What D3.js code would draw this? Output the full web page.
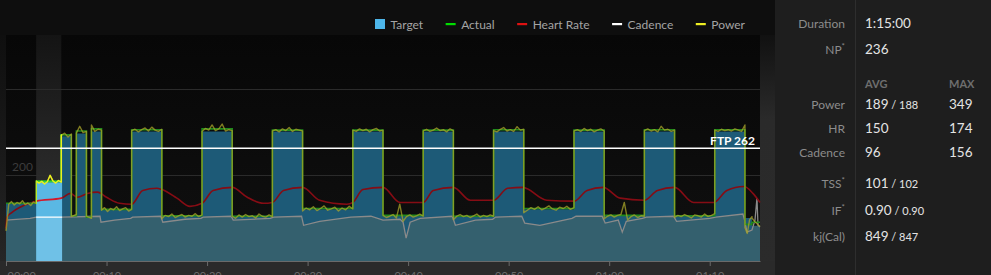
<!DOCTYPE html>
<html>
<head>
<meta charset="utf-8">
<script src="https://cdn.jsdelivr.net/npm/d3@7"></script>
<style>
  body { margin: 0; background: #0e0e0e; overflow: hidden; }
  text { font-family: Lato, "Open Sans", sans-serif; }
</style>
</head>
<body>
<div id="chart"></div>
<script>
// workout intervals (minutes) with target and actual watts
var duration = 75;
var ftp = 262;
var selected = [3, 5.5];

var segStart  = [0, 3, 5.5, 6.5, 7, 8, 8.5, 9.5, 12.5, 15.5, 19.5, 22.5, 26.5, 29.5, 34.5, 37.5, 41.5, 44.5, 48.5, 51.5, 56.5, 59.5, 63.5, 66.5, 70.5, 73.5, 74.2];
var segTarget = [134, 183, 290, 105, 296, 105, 301, 120, 301, 105, 301, 105, 301, 120, 301, 105, 301, 105, 301, 120, 301, 105, 301, 105, 301, 100, 82];
var segActual = [134, 185, 293, 105, 302, 102, 307, 120, 305, 105, 307, 104, 304, 122, 304, 106, 304, 104, 305, 122, 304, 106, 305, 105, 305, 85, 90];

// raw power readings, one list per interval (spread evenly over it)
var powerSamples = [
  [70, 132, 138, 130, 136, 133, 140, 131, 135, 129, 137, 134],
  [186, 181, 185, 179, 184, 199, 186, 181, 187, 183],
  [292, 297, 288, 295],
  [103, 108],
  [297, 313, 298, 301],
  [104, 99],
  [316, 301, 306, 304],
  [118, 124, 115, 122, 119, 126, 117, 121, 124, 116, 120],
  [303, 306, 300, 305, 309, 302, 311, 304, 301, 306],
  [98, 106, 103, 109, 101, 105, 108, 102, 106, 104, 110, 103, 107],
  [301, 308, 304, 316, 303, 307, 318, 302, 305, 303],
  [104, 99, 107, 102, 108, 103, 105, 100, 109, 104, 102, 107, 103],
  [302, 305, 300, 307, 303, 310, 301, 306, 304, 302],
  [116, 123, 119, 126, 117, 122, 128, 118, 121, 125, 116, 123, 119, 127, 121],
  [304, 301, 307, 303, 306, 300, 305, 308, 302, 304],
  [106, 101, 104, 108, 100, 132, 92, 103, 107, 102, 105, 109, 104],
  [302, 306, 301, 304, 309, 303, 305, 300, 307, 303],
  [96, 104, 108, 103, 106, 101, 105, 109, 102, 106, 103, 107, 104],
  [303, 300, 306, 310, 302, 305, 301, 312, 304, 306],
  [112, 118, 124, 120, 126, 119, 123, 128, 121, 118, 125, 122, 127, 120, 124],
  [302, 305, 301, 308, 303, 306, 300, 304, 307, 302],
  [98, 104, 107, 102, 106, 108, 136, 95, 103, 107, 101, 105, 104],
  [303, 307, 302, 305, 300, 313, 304, 306, 301, 304],
  [101, 106, 103, 108, 104, 100, 107, 105, 102, 109, 103, 106, 110],
  [304, 301, 306, 303, 305, 302, 307, 304, 301, 316],
  [78, 64, 96, 103],
  [100, 92, 86, 80]
];

// heart rate (bpm)
var hrTime = [0, 0.1, 0.6, 1.4, 3, 5.5, 6.4, 7.1, 8.1, 9.1, 10, 11.3, 12.5, 13.6, 15, 15.5, 17, 18.3, 19.5, 20.6, 22.5, 24, 25.6, 26.5, 27.6, 29.5, 31.2, 33.9, 34.5, 35.5, 37.5, 39.2, 41.5, 42.5, 44.5, 46.2, 48.5, 49.9, 51.4, 53.8, 56.5, 57.8, 59.4, 61.1, 63.5, 64.8, 66.5, 68.4, 70.4, 71.7, 73.4, 74.3, 75];
var hrBpm  = [76, 102, 113, 125, 139, 146, 157, 148, 157, 160, 148, 134, 132, 164, 169, 166, 146, 127, 134, 164, 171, 148, 134, 136, 164, 171, 141, 132, 136, 166, 171, 136, 136, 164, 171, 141, 141, 169, 171, 141, 139, 164, 171, 146, 141, 164, 171, 136, 136, 164, 173, 157, 136];

// cadence (rpm)
var cadTime = [0, 2.4, 3, 5.5, 9.35, 9.45, 10.8, 12.4, 12.6, 15.4, 15.6, 17.8, 19.4, 19.6, 22.4, 22.6, 26.3, 26.6, 29.4, 29.6, 31.2, 34.3, 36.3, 37.5, 39.2, 39.5, 39.8, 40.2, 41.2, 44.4, 44.7, 46.7, 48.4, 48.7, 51.3, 51.6, 53.1, 56.3, 56.7, 59.3, 59.6, 60.9, 61.3, 61.7, 63.3, 63.7, 66.4, 66.7, 70, 70.6, 73.3, 73.5, 73.7, 74.2, 74.5, 74.7, 74.8, 75];
var cadRpm  = [95, 99, 102, 102, 104, 90, 95, 99, 102, 104, 90, 97, 99, 102, 104, 95, 99, 102, 104, 83, 92, 102, 104, 95, 97, 90, 53, 90, 99, 104, 83, 95, 97, 102, 104, 88, 83, 99, 104, 104, 88, 95, 67, 92, 99, 102, 104, 92, 99, 102, 109, 92, 67, 72, 95, 146, 83, 79];

var xTickValues = [0, 10, 20, 30, 40, 50, 60, 70];
var xTickLabels = ["00:00", "00:10", "00:20", "00:30", "00:40", "00:50", "01:00", "01:10"];
var yGridValues = [200, 400];
var yTickLabels = ["200"];

var legendLabels = ["Target", "Actual", "Heart Rate", "Cadence", "Power"];
var legendColors = ["#4db5e8", "#00dd00", "#dd1111", "#ffffff", "#eeee22"];

// summary panel
var summaryLabels = ["Duration", "NP"];
var summaryValues = ["1:15:00", "236"];
var metricLabels = ["Power", "HR", "Cadence"];
var metricAvg = ["189", "150", "96"];
var metricAvgPlan = ["188", null, null];
var metricMax = ["349", "174", "156"];
var scoreLabels = ["TSS", "IF", "kj(Cal)"];
var scoreActual = ["101", "0.90", "849"];
var scorePlan = ["102", "0.90", "847"];

var svgWidth = 991, svgHeight = 275;
var plot = {left: 6, right: 760, top: 35, bottom: 261};

var svg = d3.select("#chart").append("svg")
  .attr("width", svgWidth)
  .attr("height", svgHeight);

var defs = svg.append("defs");
function vGrad(id, stops) {
  var g = defs.append("linearGradient").attr("id", id)
    .attr("x1", 0).attr("y1", 0).attr("x2", 0).attr("y2", 1);
  stops.forEach(function(s) {
    g.append("stop").attr("offset", s[0]).attr("stop-color", s[1]);
  });
}
vGrad("plotBg", [[0, "#070707"], [1, "#101010"]]);
vGrad("bandBg", [[0, "#141414"], [0.6, "#292929"], [1, "#2c2c2c"]]);
vGrad("rightStrip", [[0, "#111111"], [0.35, "#2a2a2a"], [1, "#2b2b2b"]]);
vGrad("leftStrip", [[0, "#0f0f0f"], [0.6, "#1b1b1b"], [1, "#262626"]]);

// scales
var x = d3.scaleLinear().domain([0, duration]).range([plot.left, plot.right]);
var y = d3.scaleLinear().domain([0, 525]).range([plot.bottom, plot.top]);

// backgrounds
svg.append("rect").attr("x", 0).attr("y", 0).attr("width", 775).attr("height", svgHeight).attr("fill", "#0e0e0e");
svg.append("rect").attr("x", 0).attr("y", plot.top).attr("width", plot.left).attr("height", plot.bottom - plot.top).attr("fill", "url(#leftStrip)");
svg.append("rect").attr("x", plot.right).attr("y", plot.top).attr("width", 15).attr("height", svgHeight - plot.top).attr("fill", "url(#rightStrip)");
svg.append("rect").attr("x", 0).attr("y", plot.bottom).attr("width", 775).attr("height", svgHeight - plot.bottom).attr("fill", "#2a2a2a");
svg.append("rect").attr("x", plot.left).attr("y", plot.top).attr("width", plot.right - plot.left).attr("height", plot.bottom - plot.top).attr("fill", "url(#plotBg)");

// selected interval band
svg.append("rect")
  .attr("x", x(selected[0])).attr("y", plot.top)
  .attr("width", x(selected[1]) - x(selected[0])).attr("height", plot.bottom - plot.top)
  .attr("fill", "url(#bandBg)");

// gridlines
svg.selectAll(".grid").data(yGridValues).enter().append("line")
  .attr("class", "grid")
  .attr("x1", plot.left).attr("x2", plot.right)
  .attr("y1", d => Math.round(y(d)) + 0.5).attr("y2", d => Math.round(y(d)) + 0.5)
  .attr("stroke", "#2b2b2b");

svg.selectAll(".ylab").data(yTickLabels).enter().append("text")
  .attr("class", "ylab")
  .attr("x", 12).attr("y", d => y(+d) - 4)
  .attr("fill", "#3c3c3c").style("font-size", "12px")
  .text(d => d);

// series
var segs = segStart.map(function(s, i) {
  return {start: s, end: i < segStart.length - 1 ? segStart[i + 1] : duration, target: segTarget[i], actual: segActual[i]};
});
var stepTarget = segs.map(d => [d.start, d.target]).concat([[duration, segTarget[segTarget.length - 1]]]);
var stepActual = segs.map(d => [d.start, d.actual]).concat([[duration, segActual[segActual.length - 1]]]);

var powerPts = [];
powerSamples.forEach(function(list, i) {
  var sg = segs[i];
  list.forEach(function(w, j) {
    powerPts.push([sg.start + (sg.end - sg.start) * j / (list.length - 1), w]);
  });
});
var hrPts = hrTime.map((t, i) => [t, hrBpm[i]]);
var cadPts = cadTime.map((t, i) => [t, cadRpm[i]]);

var targetArea = d3.area().x(d => x(d[0])).y0(plot.bottom).y1(d => y(d[1])).curve(d3.curveStepAfter);
var cadArea = d3.area().x(d => x(d[0])).y0(plot.bottom).y1(d => y(d[1]));
var stepLine = d3.line().x(d => x(d[0])).y(d => y(d[1])).curve(d3.curveStepAfter);
var plainLine = d3.line().x(d => x(d[0])).y(d => y(d[1]));
var smoothLine = d3.line().x(d => x(d[0])).y(d => y(d[1])).curve(d3.curveMonotoneX);

defs.append("clipPath").attr("id", "targetClip")
  .append("path").attr("d", targetArea(stepTarget));
defs.append("clipPath").attr("id", "selClip")
  .append("rect").attr("x", x(selected[0])).attr("y", 0)
  .attr("width", x(selected[1]) - x(selected[0]) + 0.8).attr("height", svgHeight);

function drawLayer(g, c) {
  g.append("path").attr("d", targetArea(stepTarget)).attr("fill", c.fill);
  g.append("g").attr("clip-path", "url(#targetClip)")
    .append("path").attr("d", cadArea(cadPts)).attr("fill", c.cadFill);
  g.append("path").attr("d", plainLine(cadPts)).attr("fill", "none")
    .attr("stroke", c.cad).attr("stroke-width", 1.3);
  g.append("path").attr("d", smoothLine(hrPts)).attr("fill", "none")
    .attr("stroke", c.hr).attr("stroke-width", 1.6);
  g.append("path").attr("d", stepLine(stepActual)).attr("fill", "none")
    .attr("stroke", c.actual).attr("stroke-width", 1.6);
  g.append("path").attr("d", plainLine(powerPts)).attr("fill", "none")
    .attr("stroke", c.power).attr("stroke-opacity", c.powerOpacity)
    .attr("stroke-width", 1.4).attr("stroke-linejoin", "round");
}

drawLayer(svg.append("g"), {
  fill: "#1d5a77", cadFill: "rgba(76,102,102,0.5)", cad: "#8a8a8a",
  hr: "#860c14", actual: "#1f8a1c", power: "#a8a42a", powerOpacity: 0.75
});
drawLayer(svg.append("g").attr("clip-path", "url(#selClip)"), {
  fill: "#5ab8e4", cadFill: "rgba(255,255,255,0.13)", cad: "#ffffff",
  hr: "#d4182a", actual: "#2fd82f", power: "#ecf020", powerOpacity: 1
});

// FTP line
svg.append("line")
  .attr("x1", plot.left).attr("x2", plot.right)
  .attr("y1", y(ftp)).attr("y2", y(ftp))
  .attr("stroke", "#ffffff").attr("stroke-width", 1.5);
svg.append("text")
  .attr("x", 755).attr("y", y(ftp) - 3)
  .attr("text-anchor", "end")
  .attr("fill", "#ffffff").style("font-size", "12px").style("font-weight", "bold")
  .text("FTP " + ftp);

// x axis
var xAxis = d3.axisBottom(x)
  .tickValues(xTickValues)
  .tickFormat((d, i) => xTickLabels[i])
  .tickSize(5).tickSizeOuter(0).tickPadding(6);
var axisG = svg.append("g")
  .attr("transform", `translate(0, ${plot.bottom})`)
  .call(xAxis);
axisG.select(".domain").attr("stroke", "#6a6a6a");
axisG.selectAll(".tick line").attr("stroke", "#6a6a6a");
axisG.selectAll(".tick text").attr("fill", "#6a6a6a")
  .style("font-family", "Lato, sans-serif").style("font-size", "11px");
axisG.selectAll(".tick text").filter((d, i) => i === 0)
  .attr("text-anchor", "start").attr("x", 1);

// legend
var lx = 375;
legendLabels.forEach(function(label, i) {
  if (i === 0) {
    svg.append("rect").attr("x", lx).attr("y", 19).attr("width", 10).attr("height", 10).attr("fill", legendColors[i]);
  } else {
    svg.append("rect").attr("x", lx).attr("y", 23).attr("width", 10).attr("height", 2.2).attr("fill", legendColors[i]);
  }
  var t = svg.append("text")
    .attr("x", lx + 15.5).attr("y", 28.5)
    .attr("fill", "#a4a4a4").style("font-size", "12px")
    .text(label);
  lx += 15.5 + t.node().getComputedTextLength() + 22.5;
});

// summary panel
var panel = svg.append("g").attr("transform", "translate(775, 0)");
panel.append("rect").attr("width", 216).attr("height", svgHeight).attr("fill", "#1e1e1e");
panel.append("line").attr("x1", 80.5).attr("x2", 80.5).attr("y1", 0).attr("y2", svgHeight).attr("stroke", "#2e2e2e");

var labelX = 70, valueX = 90, maxX = 174;
function rowLabel(y0, txt, star) {
  var t = panel.append("text").attr("x", labelX).attr("y", y0)
    .attr("text-anchor", "end").attr("fill", "#8c8c8c").style("font-size", "12px")
    .text(txt);
  if (star) {
    t.append("tspan").attr("dy", -5).style("font-size", "8px").text("*");
  }
}
function rowValue(x0, y0, main, plan) {
  var t = panel.append("text").attr("x", x0).attr("y", y0)
    .attr("fill", "#e4e4e4").style("font-size", "13.5px")
    .text(main);
  if (plan) {
    t.append("tspan").style("font-size", "11px").text(" / " + plan);
  }
}

var summaryY = [28, 54];
summaryLabels.forEach(function(l, i) {
  rowLabel(summaryY[i], l, l === "NP");
  rowValue(valueX, summaryY[i], summaryValues[i]);
});

panel.append("text").attr("x", valueX).attr("y", 88).attr("fill", "#6e6e6e")
  .style("font-size", "11px").style("font-weight", "bold").text("AVG");
panel.append("text").attr("x", maxX).attr("y", 88).attr("fill", "#6e6e6e")
  .style("font-size", "11px").style("font-weight", "bold").text("MAX");

var metricY = [109, 133, 157];
metricLabels.forEach(function(l, i) {
  rowLabel(metricY[i], l, false);
  rowValue(valueX, metricY[i], metricAvg[i], metricAvgPlan[i]);
  rowValue(maxX, metricY[i], metricMax[i]);
});

var scoreY = [188, 215, 241];
scoreLabels.forEach(function(l, i) {
  rowLabel(scoreY[i], l, l !== "kj(Cal)");
  rowValue(valueX, scoreY[i], scoreActual[i], scorePlan[i]);
});
</script>
</body>
</html>
